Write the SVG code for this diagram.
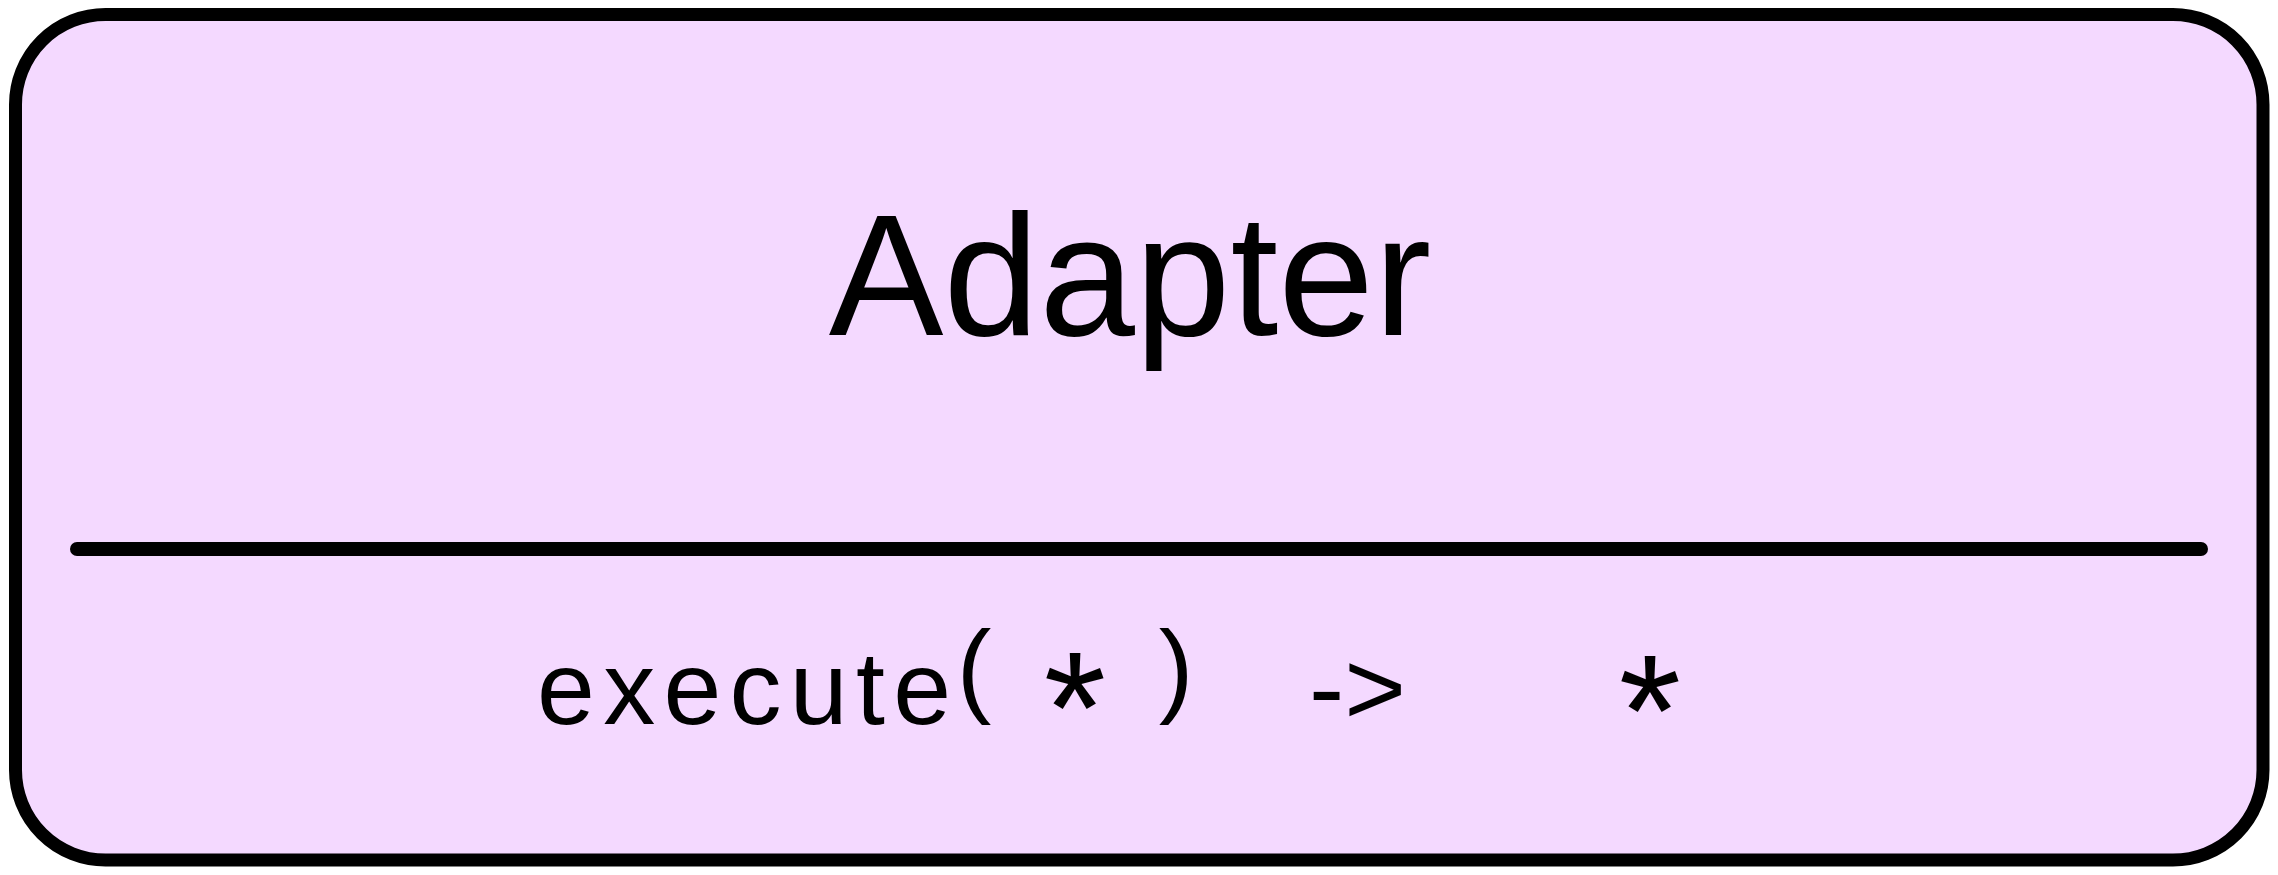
<svg xmlns="http://www.w3.org/2000/svg" width="2278" height="875" viewBox="0 0 2278 875">
  <style>
    .box { fill: #f4d9ff; stroke: #000000; stroke-width: 13; stroke-linejoin: round; }
    .sep { stroke: #000000; stroke-width: 14; stroke-linecap: round; fill: none; }
    .title { font-family: "Liberation Sans", Arial, sans-serif; font-size: 172px; fill: #000000; }
    .sig { font-family: "Liberation Sans", Arial, sans-serif; font-size: 104px; fill: #000000; }
    .star { font-family: "Liberation Sans", Arial, sans-serif; font-size: 160px; fill: #000000; }
  </style>
  <rect width="2278" height="875" fill="#ffffff"/>
  <g id="adapter">
    <rect class="box" x="15.5" y="14.5" width="2247.5" height="845.5" rx="90" ry="90"/>
    <text class="title" x="1130" y="335" text-anchor="middle">Adapter</text>
    <g id="method">
      <text class="sig" x="537" y="724" textLength="414" lengthAdjust="spacing">execute</text>
      <text class="sig" x="974" y="703" text-anchor="middle">(</text>
      <text class="star" x="1075" y="763" text-anchor="middle">*</text>
      <text class="sig" x="1176" y="703" text-anchor="middle">)</text>
      <text class="sig" x="1309" y="724" textLength="97" lengthAdjust="spacingAndGlyphs">-&gt;</text>
      <text class="star" x="1650" y="766" text-anchor="middle">*</text>
    </g>
  </g>
  <g id="connectors">
    <line class="sep" x1="77" y1="549" x2="2201" y2="549"/>
  </g>
</svg>
